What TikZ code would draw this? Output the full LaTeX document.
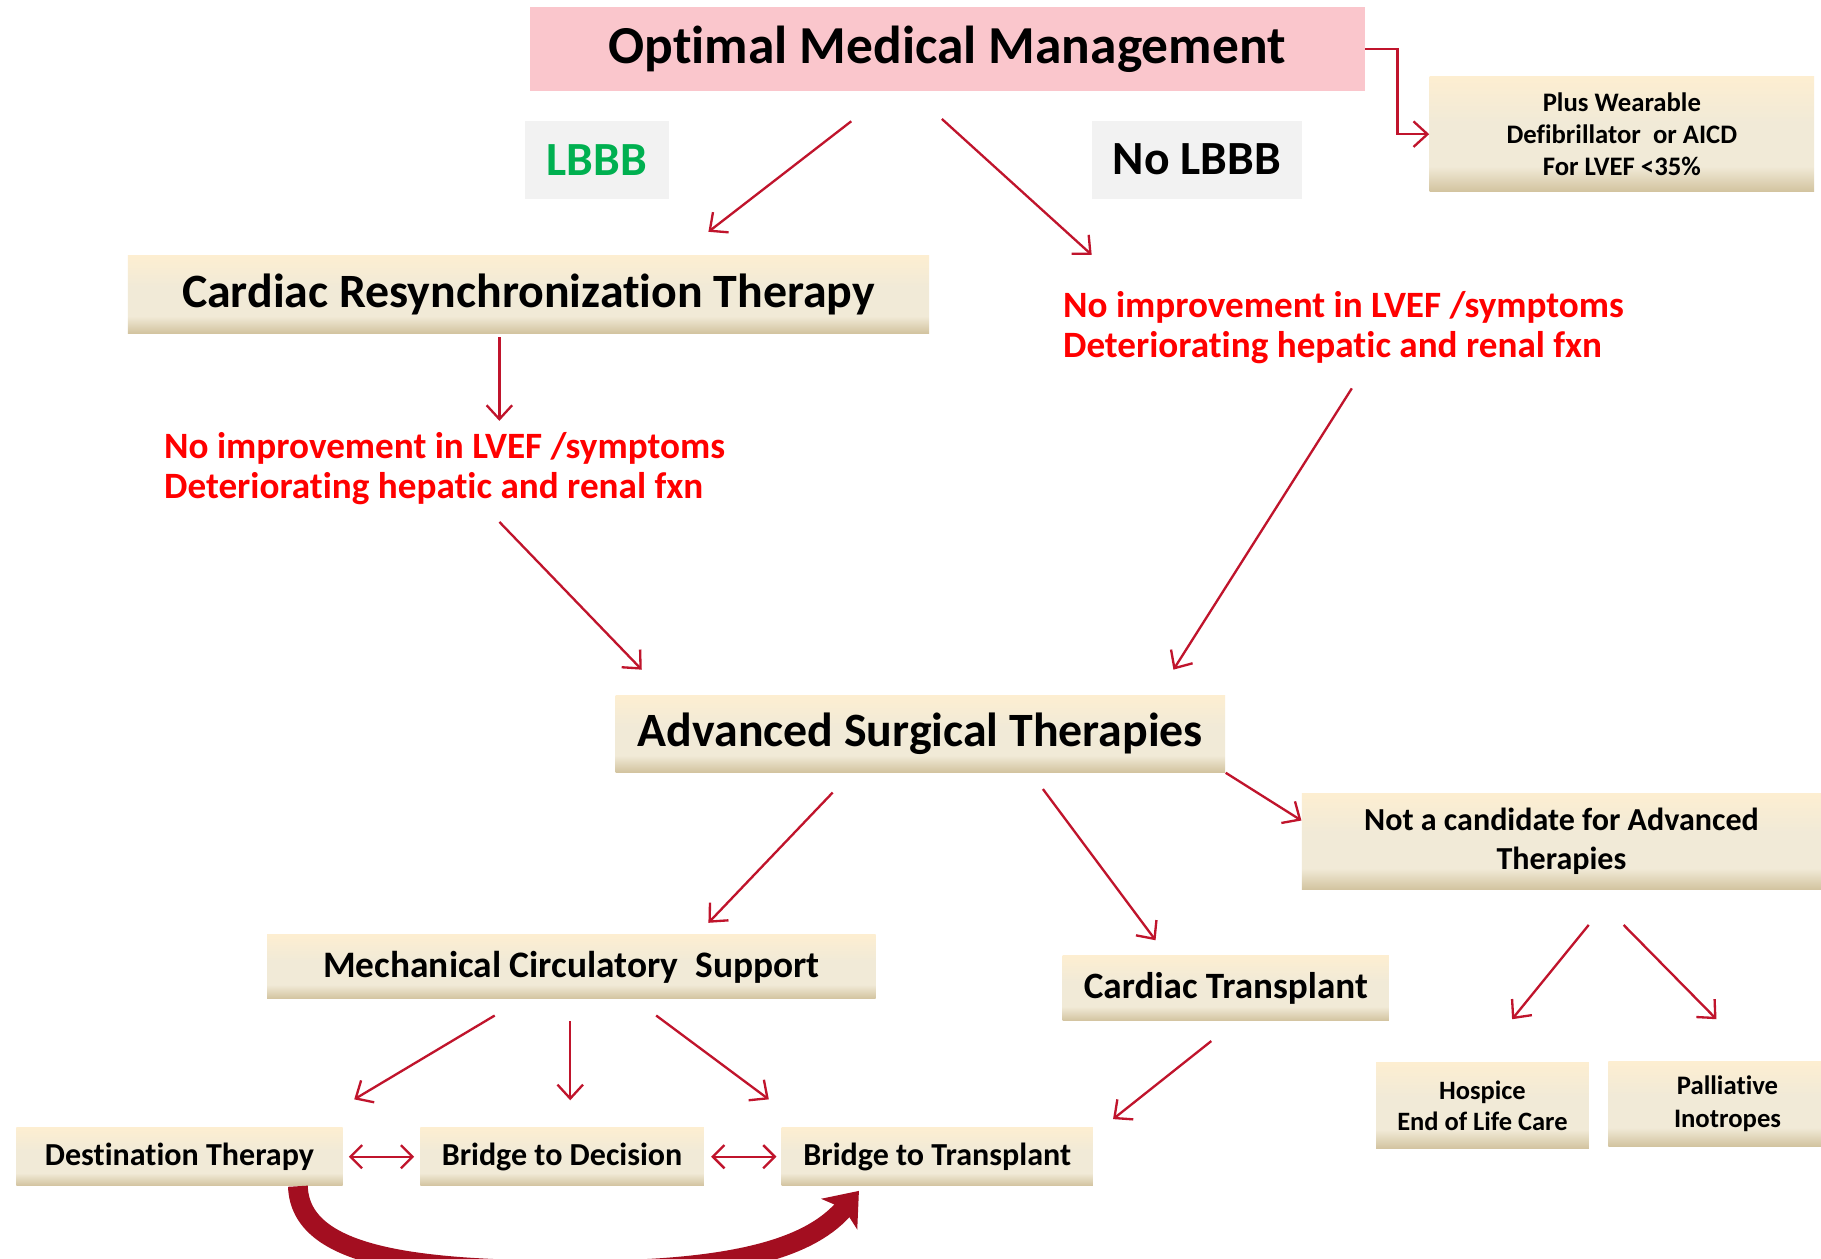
\documentclass[tikz,border=0pt]{standalone}
\usepackage{fontspec}
\setmainfont{Carlito}[Ligatures={NoCommon,NoContextual,NoRequired}, Contextuals=NoAlternate, RawFeature={-liga;-clig;-dlig;-calt}]
\usetikzlibrary{positioning,calc,arrows.meta}
\definecolor{cream}{HTML}{FDEED1}
\definecolor{creammid}{HTML}{F1EAD7}
\definecolor{creamdark}{HTML}{D2C39F}
\definecolor{pinkbg}{HTML}{FAC6CC}
\definecolor{greybg}{HTML}{F2F2F2}
\definecolor{arrred}{HTML}{C0142C}
\definecolor{txtred}{HTML}{FF0000}
\definecolor{txtgreen}{HTML}{00B050}
\definecolor{curvered}{HTML}{A30E20}
\pgfdeclareverticalshading{creamfade}{100bp}{color(0bp)=(creamdark); color(25bp)=(creamdark); color(36bp)=(creammid); color(55bp)=(creammid); color(75bp)=(cream); color(100bp)=(cream)}
\newcommand{\fsz}[2]{\fontsize{#1pt}{#2pt}\selectfont\bfseries}
\tikzset{
box/.style={shading=creamfade, inner sep=0pt, align=center},
pinkbox/.style={fill=pinkbg, inner sep=0pt},
greybox/.style={fill=greybg, inner sep=0pt},
redtxt/.style={text=txtred, align=left, inner sep=0pt, font=\fsz{16}{17}},
arr/.style={draw=arrred, line width=1pt, -{Straight Barb[length=6pt,width=11pt]}},
dblarr/.style={draw=arrred, line width=1pt, {Straight Barb[length=5pt,width=10pt]}-{Straight Barb[length=5pt,width=10pt]}},
}
\begin{document}
\begin{tikzpicture}[x=0.5pt, y=-0.5pt]
\path[use as bounding box, fill=white] (0,0) rectangle (1568,1084);
\clip (0,0) rectangle (1568,1084);

\node[pinkbox, minimum width=359.5pt, minimum height=36pt, font=\fsz{23}{27}] (omm) at (815.5,42) {Optimal Medical Management};
\node[greybox, minimum width=62pt, minimum height=33.5pt, text=txtgreen, font=\fsz{20.5}{24}] (lbbb) at (514,137.5) {LBBB};
\node[greybox, minimum width=90.5pt, minimum height=33.5pt, font=\fsz{20.5}{24}] (nolbbb) at (1030.5,137.5) {No LBBB};
\node[box, minimum width=165.5pt, minimum height=49.5pt, font=\fsz{11.5}{13.75}] (icd) at (1396.5,115.5) {Plus Wearable\\Defibrillator~ or AICD\\For LVEF <35\%};
\node[box, minimum width=345pt, minimum height=33.5pt, font=\fsz{20.6}{24}] (crt) at (455,253.5) {Cardiac Resynchronization Therapy};
\node[redtxt, anchor=west] (redR) at (915,282) {No improvement in LVEF /symptoms\\Deteriorating hepatic and renal fxn};
\node[redtxt, anchor=west] (redL) at (141,403.5) {No improvement in LVEF /symptoms\\Deteriorating hepatic and renal fxn};
\node[box, minimum width=262.5pt, minimum height=33pt, font=\fsz{20.6}{24}] (ast) at (792.5,632) {Advanced Surgical Therapies};
\node[box, minimum width=223.5pt, minimum height=41.5pt, font=\fsz{13.8}{16.5}] (notc) at (1344.5,724.5) {Not a candidate for Advanced\\Therapies};
\node[box, minimum width=262pt, minimum height=27.5pt, font=\fsz{16.1}{19}] (mcs) at (492,832.5) {Mechanical Circulatory~ Support};
\node[box, minimum width=140.5pt, minimum height=28pt, font=\fsz{16}{19}] (ct) at (1055.5,851) {Cardiac Transplant};
\node[box, minimum width=91.5pt, minimum height=37pt, font=\fsz{11.4}{13.5}] (hosp) at (1276.5,952) {Hospice\\End of Life Care};
\node[box, minimum width=91.5pt, minimum height=36.5pt, font=\fsz{11.5}{14}] (pall) at (1476.5,950.5) {\hspace{11pt}Palliative\\\hspace{11pt}Inotropes};
\node[box, minimum width=140.5pt, minimum height=25pt, font=\fsz{13.8}{16}] (dt) at (154.5,996) {Destination Therapy};
\node[box, minimum width=122pt, minimum height=25pt, font=\fsz{13.8}{16}] (btd) at (484,996) {Bridge to Decision};
\node[box, minimum width=134pt, minimum height=25pt, font=\fsz{13.8}{16}] (btt) at (807,996) {Bridge to Transplant};

\draw[arr] ($(omm.south)+(-82.5,26)$) -- ($(crt.north)+(155,-20)$);
\draw[arr] ($(omm.south)+(-4.5,24)$) -- ($(nolbbb.south)+(-90.5,48)$);
\draw[arr] (omm.east) -- ++(28,0) |- (icd.west);
\draw[arr] ($(crt.south)+(-25,3)$) -- ++(0,72);
\draw[arr] ($(crt.south)+(-25,162)$) -- ($(ast.north west)+(23,-22)$);
\draw[arr] ($(nolbbb.south)+(133.5,163)$) -- ($(ast.north east)+(-45,-22)$);
\draw[arr] ($(ast.south)+(-75.5,17)$) -- ($(mcs.north)+(118,-10)$);
\draw[arr] ($(ast.south)+(105.5,14)$) -- ($(ct.north)+(-60.5,-13)$);
\draw[arr] (ast.south east) -- ($(notc.west)+(0,-18)$);
\draw[arr] ($(mcs.south)+(-66,14)$) -- ($(dt.north)+(150.5,-24)$);
\draw[arr] ($(mcs.south)+(-1,19)$) -- ++(0,68);
\draw[arr] ($(mcs.south)+(73,14)$) -- ($(btt.north)+(-145,-24)$);
\draw[arr] ($(ct.south)+(-12.5,17)$) -- ($(btt.north east)+(17,-7)$);
\draw[arr] ($(notc.south)+(23.5,30)$) -- ($(hosp.north)+(25.5,-37)$);
\draw[arr] ($(notc.south)+(53.5,30)$) -- ($(pall.north)+(1.5,-36)$);
\draw[dblarr] ($(dt.east)+(5,0)$) -- ($(btd.west)+(-5,0)$);
\draw[dblarr] ($(btd.east)+(6,0)$) -- ($(btt.west)+(-4,0)$);
\draw[curvered, line width=8.5pt, -{Stealth[length=13pt,width=20pt,inset=3pt]}] ($(dt.south)+(102,0)$) .. controls ++(2,62) and (360,1094) .. (500,1094) .. controls (640,1094) and (700,1072) .. ($(btt.south west)+(67,4)$);
\end{tikzpicture}
\end{document}
